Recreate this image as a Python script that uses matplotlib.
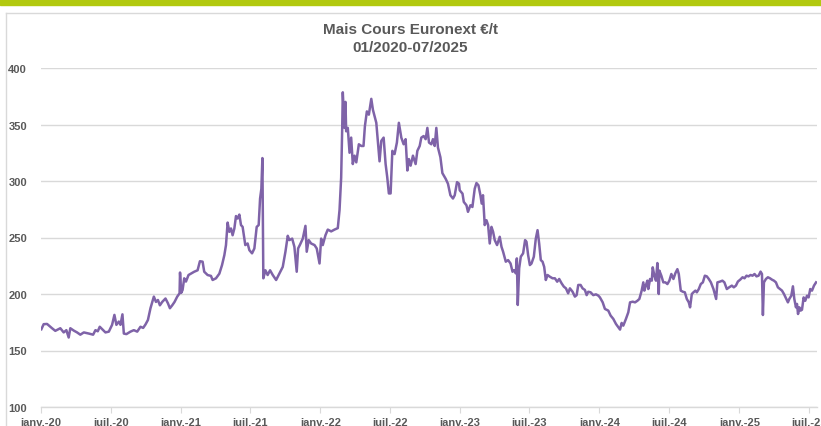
import numpy as np
import pandas as pd
import matplotlib
matplotlib.use("Agg")
import matplotlib.pyplot as plt
from matplotlib.lines import Line2D

plt.rcParams["font.family"] = ["Liberation Sans Narrow", "Liberation Sans", "DejaVu Sans"]

# time position in months since 2020-01-01
months = [
    0.03, 0.23, 0.52, 0.95, 1.23, 1.66, 1.95, 2.18, 2.38, 2.52, 2.82, 3.10, 3.38, 3.68, 4.11,
    4.48, 4.68, 4.88, 5.05, 5.25, 5.54, 5.83, 6.11, 6.31, 6.48, 6.69, 6.83, 7.00, 7.12, 7.34,
    7.69, 7.98, 8.27, 8.55, 8.78, 8.98, 9.19, 9.41, 9.70, 9.88, 10.05, 10.22, 10.42, 10.70, 10.91,
    11.08, 11.28, 11.48, 11.71, 11.91, 11.95, 12.05, 12.17, 12.31, 12.46, 12.68, 12.89, 13.17, 13.46, 13.66,
    13.89, 14.03, 14.32, 14.61, 14.75, 15.04, 15.33, 15.56, 15.76, 15.90, 16.04, 16.19, 16.33, 16.47, 16.62,
    16.76, 16.90, 17.05, 17.19, 17.33, 17.56, 17.76, 17.91, 18.14, 18.34, 18.54, 18.71, 18.83, 18.94, 19.03,
    19.11, 19.29, 19.48, 19.69, 19.92, 20.21, 20.49, 20.78, 21.01, 21.21, 21.35, 21.59, 21.78, 21.98, 22.10,
    22.27, 22.50, 22.73, 22.84, 23.01, 23.22, 23.51, 23.70, 23.94, 24.08, 24.22, 24.45, 24.65, 24.94, 25.23,
    25.51, 25.66, 25.80, 25.89, 25.94, 26.09, 26.17, 26.23, 26.37, 26.52, 26.66, 26.80, 26.95, 27.10, 27.32,
    27.53, 27.72, 27.84, 28.01, 28.18, 28.39, 28.53, 28.67, 28.82, 28.96, 29.10, 29.25, 29.45, 29.62, 29.76,
    29.90, 30.05, 30.20, 30.39, 30.59, 30.76, 30.97, 31.17, 31.34, 31.49, 31.62, 31.77, 31.97, 32.20, 32.35,
    32.55, 32.69, 32.89, 33.06, 33.21, 33.35, 33.55, 33.69, 33.84, 33.98, 34.12, 34.33, 34.50, 34.78, 34.98,
    35.19, 35.41, 35.56, 35.76, 35.93, 35.99, 36.23, 36.34, 36.57, 36.70, 36.91, 37.08, 37.28, 37.43, 37.60,
    37.77, 37.88, 37.99, 38.14, 38.29, 38.43, 38.57, 38.72, 38.86, 39.00, 39.20, 39.43, 39.58, 39.72, 39.95,
    40.15, 40.36, 40.53, 40.67, 40.81, 40.90, 40.98, 41.10, 41.24, 41.44, 41.61, 41.73, 41.87, 42.02, 42.16,
    42.36, 42.53, 42.68, 42.82, 42.96, 43.11, 43.25, 43.39, 43.54, 43.74, 43.97, 44.17, 44.37, 44.54, 44.75,
    44.94, 45.12, 45.31, 45.46, 45.69, 45.89, 46.04, 46.18, 46.38, 46.55, 46.75, 46.90, 47.04, 47.24, 47.47,
    47.70, 47.90, 48.04, 48.28, 48.47, 48.76, 48.96, 49.19, 49.42, 49.62, 49.77, 49.91, 50.05, 50.28, 50.48,
    50.63, 50.86, 51.06, 51.26, 51.43, 51.63, 51.77, 51.86, 51.98, 52.12, 52.20, 52.35, 52.50, 52.58, 52.72,
    52.86, 52.98, 53.10, 53.15, 53.32, 53.49, 53.67, 53.84, 54.01, 54.18, 54.36, 54.53, 54.70, 54.82, 54.99,
    55.17, 55.34, 55.51, 55.68, 55.79, 55.94, 56.08, 56.25, 56.37, 56.54, 56.71, 56.89, 57.06, 57.23, 57.40,
    57.58, 57.80, 57.95, 58.03, 58.14, 58.37, 58.57, 58.74, 58.95, 59.15, 59.38, 59.55, 59.73, 59.90, 60.10,
    60.30, 60.47, 60.64, 60.81, 60.99, 61.16, 61.33, 61.50, 61.68, 61.85, 61.97, 62.05, 62.14, 62.31, 62.48,
    62.66, 62.83, 63.00, 63.17, 63.34, 63.52, 63.69, 63.86, 64.03, 64.20, 64.32, 64.49, 64.63, 64.75, 64.89,
    64.98, 65.07, 65.18, 65.29, 65.41, 65.55, 65.69, 65.84, 65.98, 66.12, 66.27, 66.44, 66.62,
]

# price in EUR/t
prices = [
    168.8, 173.3, 173.5, 169.7, 167.4, 169.7, 166.0, 168.0, 161.5, 169.7, 167.6, 166.0, 164.0, 166.0, 165.0,
    164.0, 168.0, 167.0, 171.0, 169.0, 166.0, 166.7, 172.7, 181.5, 172.7, 175.6, 172.7, 182.0, 165.0, 164.5,
    166.7, 168.0, 166.7, 171.0, 170.0, 173.0, 177.0, 187.4, 197.7, 193.0, 194.7, 190.0, 193.0, 196.0, 191.8,
    187.4, 190.0, 193.0, 197.7, 200.6, 219.0, 201.0, 203.6, 213.9, 211.0, 216.8, 218.0, 219.7, 221.0, 229.0,
    228.6, 219.7, 216.8, 216.0, 212.4, 213.9, 218.0, 225.6, 234.4, 243.3, 263.2, 255.0, 258.0, 252.0, 258.0,
    269.0, 266.8, 270.3, 261.0, 259.4, 243.3, 244.7, 238.8, 236.0, 240.3, 259.4, 261.0, 284.4, 293.0, 320.3,
    213.9, 221.0, 216.8, 221.0, 216.8, 212.4, 218.0, 224.0, 237.4, 251.5, 247.7, 249.0, 241.8, 219.7, 240.3,
    243.8, 249.0, 260.3, 237.4, 247.7, 244.7, 243.3, 240.3, 227.0, 249.0, 243.3, 252.0, 257.0, 255.4, 257.0,
    258.3, 274.3, 303.0, 347.0, 378.5, 347.0, 370.0, 344.0, 347.0, 325.0, 338.4, 315.0, 322.4, 316.5, 332.5,
    331.0, 331.0, 348.5, 361.6, 358.7, 372.7, 363.0, 357.3, 351.5, 334.0, 317.4, 335.5, 338.4, 315.0, 303.4,
    289.0, 289.0, 326.7, 323.8, 334.0, 351.5, 338.4, 332.5, 337.0, 309.3, 319.4, 313.6, 322.4, 315.0, 326.7,
    331.0, 338.4, 339.8, 337.0, 347.0, 334.0, 332.5, 337.0, 331.0, 347.0, 329.6, 321.0, 307.0, 302.0, 297.6,
    287.4, 284.5, 287.4, 299.0, 297.6, 291.8, 288.8, 281.5, 278.5, 272.7, 278.5, 277.0, 293.2, 298.2, 296.2,
    287.4, 280.0, 287.4, 261.0, 265.3, 261.0, 244.7, 259.4, 255.0, 247.7, 243.3, 250.6, 241.8, 237.4, 228.6,
    230.0, 227.0, 219.7, 221.0, 218.3, 231.5, 190.3, 222.7, 233.0, 236.0, 247.7, 246.2, 234.4, 225.6, 227.0,
    233.0, 249.0, 256.5, 244.7, 230.0, 228.6, 224.0, 212.4, 216.8, 215.3, 213.9, 213.9, 210.9, 213.3, 209.4,
    206.5, 205.0, 200.6, 205.0, 202.0, 197.7, 199.0, 208.0, 208.0, 205.0, 203.6, 199.0, 202.0, 201.5, 199.0,
    199.7, 198.6, 197.0, 192.6, 186.8, 185.3, 180.9, 178.0, 173.5, 170.6, 168.5, 174.4, 172.0, 178.0, 183.8,
    192.6, 193.2, 192.6, 194.0, 195.6, 203.0, 210.3, 203.0, 207.4, 211.8, 204.4, 213.3, 211.8, 223.6, 216.2,
    211.8, 227.4, 200.0, 220.7, 216.2, 210.3, 210.3, 208.8, 211.8, 217.7, 213.3, 218.5, 222.0, 217.7, 203.0,
    202.0, 201.5, 195.6, 192.6, 188.2, 200.0, 201.5, 203.0, 201.5, 204.4, 208.8, 210.3, 216.2, 215.6, 213.3,
    210.3, 204.4, 198.5, 195.6, 210.3, 211.0, 211.8, 210.3, 204.4, 205.9, 207.4, 205.9, 207.4, 211.0, 212.7,
    214.8, 213.9, 216.2, 215.6, 216.8, 216.2, 217.7, 215.6, 216.2, 219.8, 217.7, 181.4, 210.3, 213.3, 214.8,
    213.9, 212.7, 211.8, 210.3, 205.9, 204.4, 203.0, 200.0, 196.2, 192.6, 195.6, 198.5, 206.8, 195.6, 188.2,
    191.2, 182.3, 188.2, 185.3, 186.1, 197.0, 194.0, 198.5, 197.0, 204.4, 203.0, 207.4, 210.3,
]

tick_dates = pd.date_range("2020-01-01", "2025-07-01", freq="6MS")
tick_labels = ["janv.-20", "juil.-20", "janv.-21", "juil.-21", "janv.-22", "juil.-22",
               "janv.-23", "juil.-23", "janv.-24", "juil.-24", "janv.-25", "juil.-25"]
y_ticks = [100, 150, 200, 250, 300, 350, 400]

title = "Mais Cours Euronext €/t\n01/2020-07/2025"

start = pd.Timestamp("2020-01-01")
dates = start + pd.to_timedelta(np.array(months) * 30.4375, unit="D")

text_col = "#595959"
grid_col = "#d9d9d9"

fig = plt.figure(figsize=(8.21, 4.27), dpi=100)
fig.patch.set_facecolor("white")

# green band at the top and the light chart frame
fig.patches.append(plt.Rectangle((0, 1 - 6 / 427), 1, 6 / 427, transform=fig.transFigure,
                                 color="#b2c90f", zorder=0))
fig.lines.append(Line2D([6 / 821, 6 / 821], [0, 1 - 14 / 427], transform=fig.transFigure,
                        color=grid_col, lw=1))
fig.lines.append(Line2D([6 / 821, 1], [1 - 14 / 427, 1 - 14 / 427], transform=fig.transFigure,
                        color=grid_col, lw=1))

ax = fig.add_axes([41 / 821, 1 - 408 / 427, (817 - 41) / 821, (408 - 69) / 427])
ax.plot(dates, prices, color="#7f63a8", lw=1.8, solid_joinstyle="round")

ax.set_ylim(100, 400)
ax.set_yticks(y_ticks)
ax.set_xlim(start, start + pd.Timedelta(days=66.7 * 30.4375))
ax.set_xticks(tick_dates)
ax.set_xticklabels(tick_labels)

ax.grid(axis="y", color=grid_col, lw=1)
ax.set_axisbelow(True)
for side in ["top", "right", "left"]:
    ax.spines[side].set_visible(False)
ax.spines["bottom"].set_color(grid_col)
ax.spines["bottom"].set_linewidth(1)
ax.tick_params(axis="y", length=0, pad=10, labelsize=8, labelcolor=text_col)
ax.tick_params(axis="x", length=4, color=grid_col, pad=3, labelsize=8, labelcolor=text_col)
for lab in ax.get_xticklabels() + ax.get_yticklabels():
    lab.set_fontweight("bold")

fig.text(0.5, 1 - 39 / 427, title, ha="center", va="center", fontsize=11,
         fontweight="bold", color=text_col, linespacing=1.35)

fig.savefig("out.png", dpi=100)
